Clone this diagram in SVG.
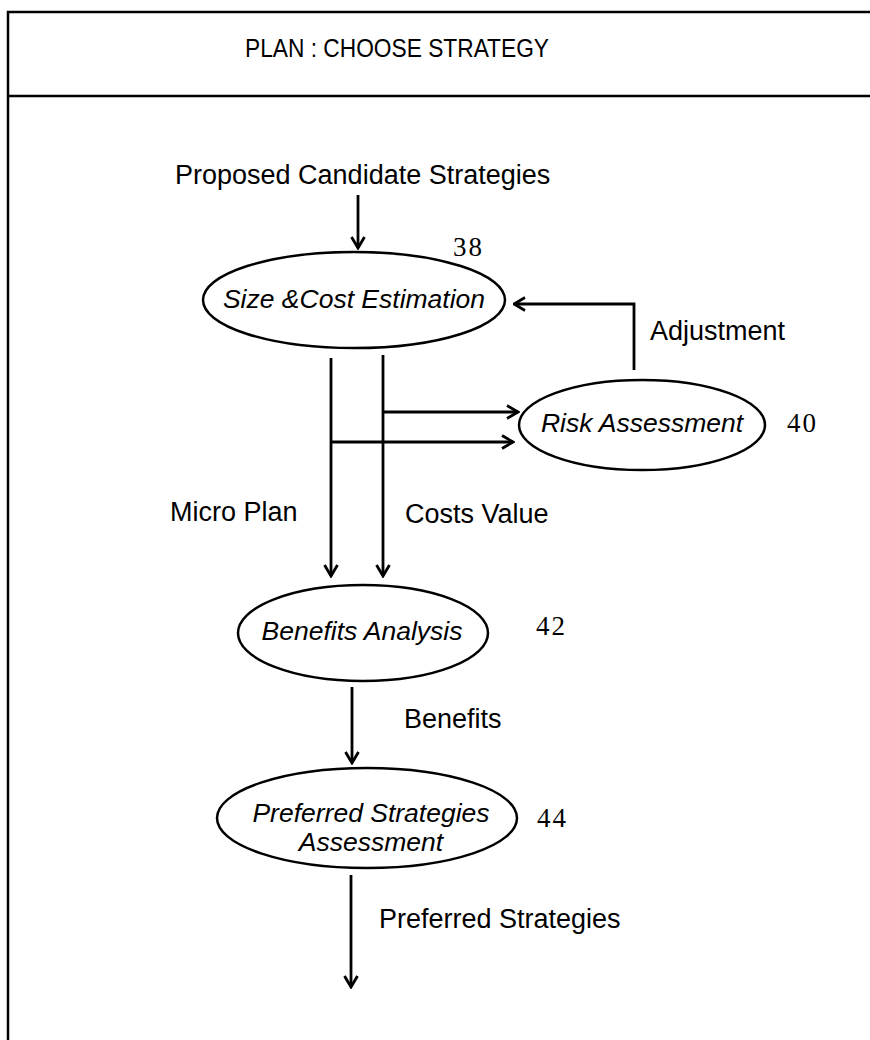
<svg xmlns="http://www.w3.org/2000/svg" width="870" height="1040" viewBox="0 0 870 1040">
  <style>
    .frame { stroke: #000; stroke-width: 2.5; fill: none; }
    .node { fill: #fff; stroke: #000; stroke-width: 2.5; }
    .edge { fill: none; stroke: #000; stroke-width: 2.8; marker-end: url(#arrow); }
    .title { font-family: "Liberation Sans", Arial, sans-serif; font-size: 26px; fill: #000; }
    .label { font-family: "Liberation Sans", Arial, sans-serif; font-size: 27px; fill: #000; }
    .name { font-family: "Liberation Sans", Arial, sans-serif; font-size: 26.5px; font-style: italic; fill: #000; text-anchor: middle; }
    .num { font-family: "Liberation Serif", "Times New Roman", serif; font-size: 27px; fill: #000; letter-spacing: 2px; }
  </style>
  <defs>
    <marker id="arrow" markerUnits="userSpaceOnUse" viewBox="0 0 14 16" refX="12.5" refY="8" markerWidth="14" markerHeight="16" orient="auto">
      <path d="M1.5,1.5 L12.5,8 L1.5,14.5" fill="none" stroke="#000" stroke-width="2.8"/>
    </marker>
  </defs>

  <rect width="870" height="1040" fill="#fff"/>

  <!-- outer frame and header band -->
  <g id="frame">
    <path class="frame" d="M870,12 H8 V1040"/>
    <path class="frame" d="M8,96 H870" stroke-width="3"/>
    <text class="title" x="245" y="57" textLength="304" lengthAdjust="spacingAndGlyphs">PLAN : CHOOSE STRATEGY</text>
  </g>

  <!-- connectors -->
  <g id="connectors">
    <path class="edge" d="M358,195 V248"/>
    <path class="edge" d="M634,370 V304 H514"/>
    <path class="edge" d="M383,412 H518"/>
    <path class="edge" d="M331,442 H513"/>
    <path class="edge" d="M331,358 V576"/>
    <path class="edge" d="M383,355 V576"/>
    <path class="edge" d="M352,687 V763"/>
    <path class="edge" d="M351,875 V987"/>
    <text class="label" x="175" y="184">Proposed Candidate Strategies</text>
    <text class="label" x="650" y="340">Adjustment</text>
    <text class="label" x="170" y="521">Micro Plan</text>
    <text class="label" x="405" y="523">Costs Value</text>
    <text class="label" x="404" y="728">Benefits</text>
    <text class="label" x="379" y="928">Preferred Strategies</text>
  </g>

  <g id="node-38">
    <ellipse class="node" cx="354" cy="300" rx="151" ry="48"/>
    <text class="name" x="354" y="308">Size &amp;Cost Estimation</text>
    <text class="num" x="453" y="256">38</text>
  </g>

  <g id="node-40">
    <ellipse class="node" cx="642" cy="425" rx="123" ry="45"/>
    <text class="name" x="642" y="432">Risk Assessment</text>
    <text class="num" x="787" y="432">40</text>
  </g>

  <g id="node-42">
    <ellipse class="node" cx="363" cy="633" rx="125" ry="48"/>
    <text class="name" x="362" y="640">Benefits Analysis</text>
    <text class="num" x="536" y="635">42</text>
  </g>

  <g id="node-44">
    <ellipse class="node" cx="367" cy="818" rx="150" ry="50"/>
    <text class="name" x="371" y="822">Preferred Strategies</text>
    <text class="name" x="371" y="851">Assessment</text>
    <text class="num" x="537" y="827">44</text>
  </g>
</svg>
